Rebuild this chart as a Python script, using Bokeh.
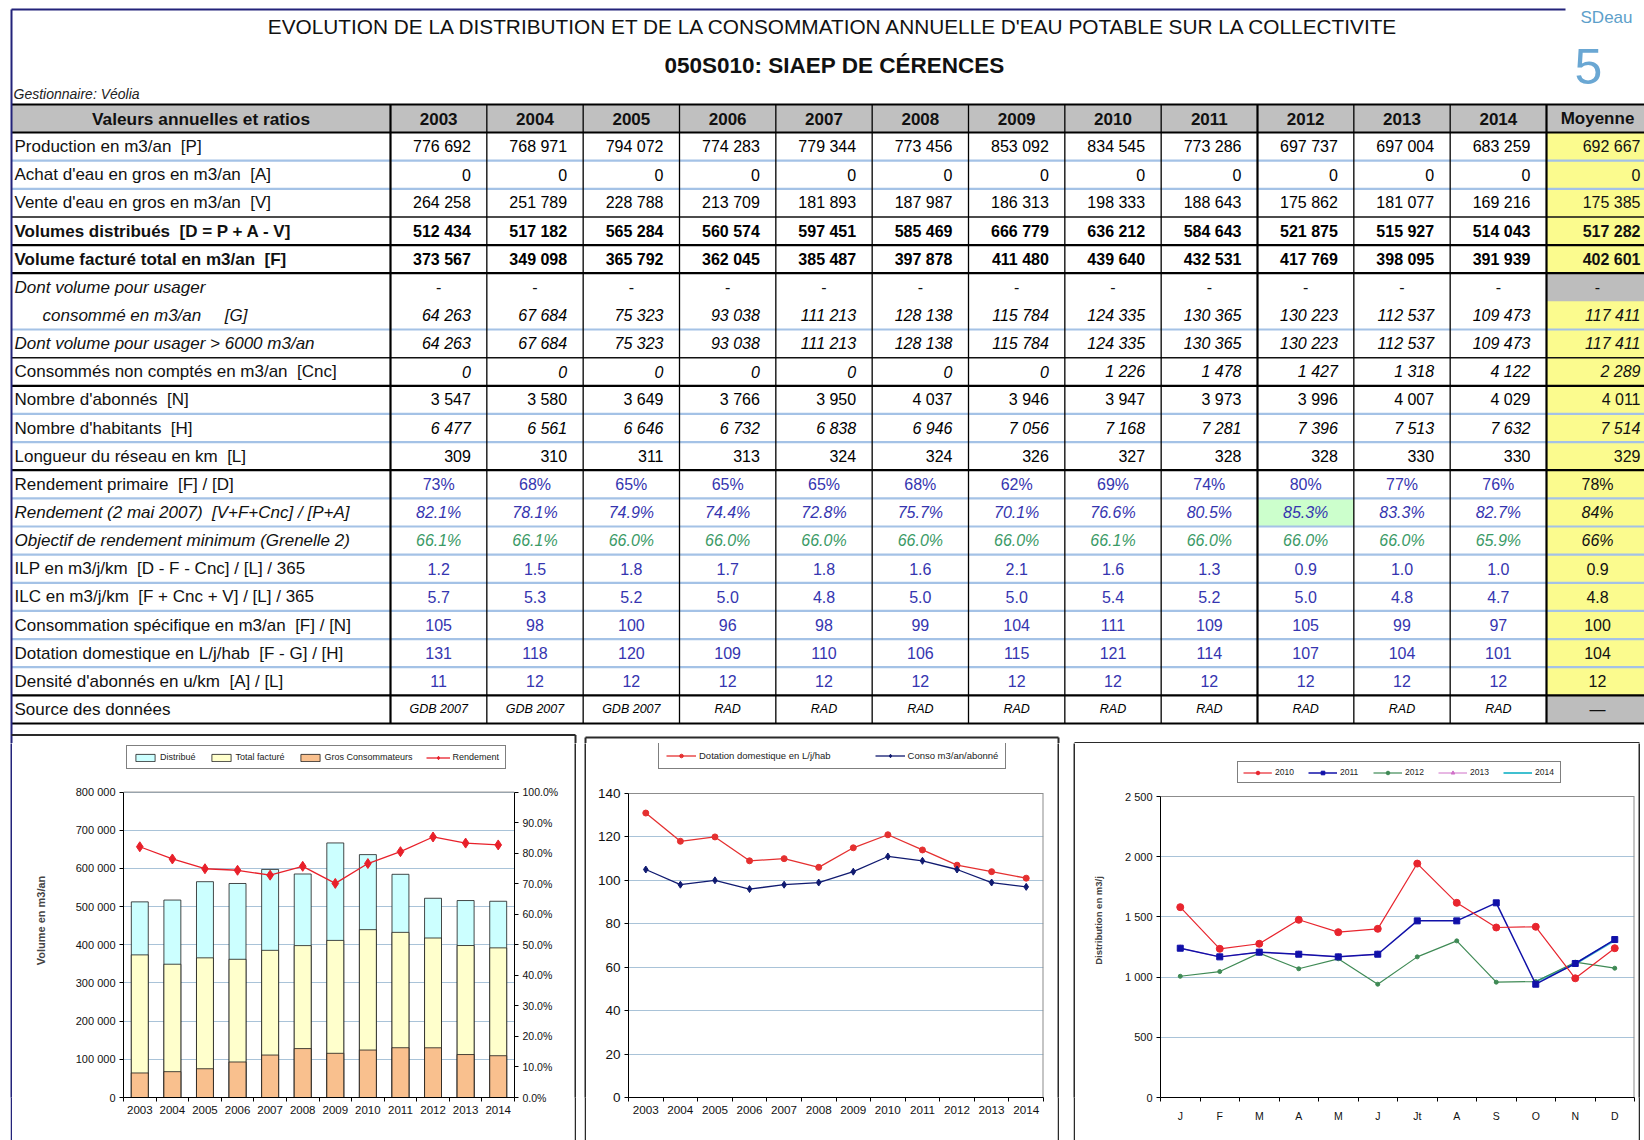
import math
from bokeh.plotting import figure
from bokeh.models import (Range1d, ColumnDataSource, LinearAxis, FixedTicker, Legend,
                          LegendItem, Spacer, Grid)
from bokeh.layouts import column, row
from bokeh.core.properties import value
from bokeh.embed import file_html
from bokeh.resources import INLINE

NAN = float("nan")

# ---------------------------------------------------------------- texts
TITLE = "EVOLUTION DE LA DISTRIBUTION ET DE LA CONSOMMATION ANNUELLE D'EAU POTABLE SUR LA COLLECTIVITE"
SUBTITLE = "050S010: SIAEP DE CÉRENCES"
GESTIONNAIRE = "Gestionnaire: Véolia"
HEADER_LABEL = "Valeurs annuelles et ratios"
HEADER_MOY = "Moyenne"

# ---------------------------------------------------------------- data
years = ["2003", "2004", "2005", "2006", "2007", "2008", "2009", "2010", "2011", "2012", "2013", "2014"]

production = [776692, 768971, 794072, 774283, 779344, 773456, 853092, 834545, 773286, 697737, 697004, 683259]
achat = [0, 0, 0, 0, 0, 0, 0, 0, 0, 0, 0, 0]
vente = [264258, 251789, 228788, 213709, 181893, 187987, 186313, 198333, 188643, 175862, 181077, 169216]
distribue = [512434, 517182, 565284, 560574, 597451, 585469, 666779, 636212, 584643, 521875, 515927, 514043]
facture = [373567, 349098, 365792, 362045, 385487, 397878, 411480, 439640, 432531, 417769, 398095, 391939]
usager = [64263, 67684, 75323, 93038, 111213, 128138, 115784, 124335, 130365, 130223, 112537, 109473]
usager6000 = [64263, 67684, 75323, 93038, 111213, 128138, 115784, 124335, 130365, 130223, 112537, 109473]
cnc = [0, 0, 0, 0, 0, 0, 0, 1226, 1478, 1427, 1318, 4122]
abonnes = [3547, 3580, 3649, 3766, 3950, 4037, 3946, 3947, 3973, 3996, 4007, 4029]
habitants = [6477, 6561, 6646, 6732, 6838, 6946, 7056, 7168, 7281, 7396, 7513, 7632]
longueur = [309, 310, 311, 313, 324, 324, 326, 327, 328, 328, 330, 330]
rend_primaire = [73, 68, 65, 65, 65, 68, 62, 69, 74, 80, 77, 76]
rendement = [82.1, 78.1, 74.9, 74.4, 72.8, 75.7, 70.1, 76.6, 80.5, 85.3, 83.3, 82.7]
objectif = [66.1, 66.1, 66.0, 66.0, 66.0, 66.0, 66.0, 66.1, 66.0, 66.0, 66.0, 65.9]
ilp = [1.2, 1.5, 1.8, 1.7, 1.8, 1.6, 2.1, 1.6, 1.3, 0.9, 1.0, 1.0]
ilc = [5.7, 5.3, 5.2, 5.0, 4.8, 5.0, 5.0, 5.4, 5.2, 5.0, 4.8, 4.7]
conso = [105, 98, 100, 96, 98, 99, 104, 111, 109, 105, 99, 97]
dotation = [131, 118, 120, 109, 110, 106, 115, 121, 114, 107, 104, 101]
densite = [11, 12, 12, 12, 12, 12, 12, 12, 12, 12, 12, 12]
source = ["GDB 2007", "GDB 2007", "GDB 2007", "RAD", "RAD", "RAD", "RAD", "RAD", "RAD", "RAD", "RAD", "RAD"]

moyenne = {
    "production": 692667, "achat": 0, "vente": 175385, "distribue": 517282, "facture": 402601,
    "usager": 117411, "usager6000": 117411, "cnc": 2289, "abonnes": 4011, "habitants": 7514,
    "longueur": 329, "rend_primaire": 78, "rendement": 84, "objectif": 66, "ilp": 0.9,
    "ilc": 4.8, "conso": 100, "dotation": 104, "densite": 12, "source": "—",
}

vol_ticks = [0, 100000, 200000, 300000, 400000, 500000, 600000, 700000, 800000]
vol_tick_labels = ["0", "100 000", "200 000", "300 000", "400 000", "500 000", "600 000", "700 000", "800 000"]
pct_ticks = [0, 10, 20, 30, 40, 50, 60, 70, 80, 90, 100]
pct_tick_labels = ["0.0%", "10.0%", "20.0%", "30.0%", "40.0%", "50.0%", "60.0%", "70.0%", "80.0%", "90.0%", "100.0%"]
ratio_ticks = [0, 20, 40, 60, 80, 100, 120, 140]

months = ["J", "F", "M", "A", "M", "J", "Jt", "A", "S", "O", "N", "D"]
dist_2010 = [1581, 1235, 1277, 1476, 1373, 1401, 1943, 1617, 1412, 1418, 990, 1240]
dist_2011 = [1240, 1168, 1207, 1190, 1168, 1190, 1467, 1467, 1617, 941, 1113, 1312]
dist_2012 = [1007, 1046, 1199, 1069, 1152, 941, 1168, 1301, 958, 963, 1124, 1074]
dist_2013 = [1240, 1168, 1207, 1190, 1168, 1190, NAN, NAN, NAN, NAN, NAN, NAN]
dist_2014 = [NAN, NAN, NAN, NAN, NAN, NAN, NAN, NAN, NAN, 962, 1110, 1305]
month_ticks = [0, 500, 1000, 1500, 2000, 2500]
month_tick_labels = ["0", "500", "1 000", "1 500", "2 000", "2 500"]

# ---------------------------------------------------------------- styles
SANS = "Liberation Sans"
NARROW = "'Liberation Sans Narrow', 'Liberation Sans', Arial, sans-serif"
BLUE_TXT = "#3535b0"
GREEN_TXT = "#3a9a66"
SEP_BLUE = "#a4c2e6"
GRID_BLUE = "#a9c3d8"
FRAME = "#2a2a2a"
NAVY = "#23237a"


def fmt(v, kind):
    if isinstance(v, str):
        return v
    if kind == "int":
        return f"{v:,}".replace(",", " ")
    if kind == "pct0":
        return f"{v:.0f}%"
    if kind == "pct1":
        return f"{v:.1f}%"
    if kind == "dec1":
        return f"{v:.1f}"
    return str(v)


# ---------------------------------------------------------------- table figure
T_H = 743
T = figure(width=1644, height=T_H, x_range=Range1d(0, 1644), y_range=Range1d(T_H, 0),
           x_axis_type=None, y_axis_type=None, output_backend="svg", toolbar_location=None,
           min_border=0, min_border_left=0, min_border_right=0, min_border_top=0, min_border_bottom=0)
T.outline_line_color = None
T.background_fill_color = "white"

X_LEFT, X_LAB, X_MOY, X_RIGHT = 11, 390, 1546, 1646
COLW = (X_MOY - X_LAB) / len(years)
Y_HEAD_T, Y_HEAD_B, Y_BOTTOM = 104, 132, 723
N_UNITS = 21
RH = (Y_BOTTOM - Y_HEAD_B) / N_UNITS
col_left = [X_LAB + i * COLW for i in range(len(years))]
col_right = [l + COLW for l in col_left]
col_center = [l + COLW / 2 for l in col_left]
MOY_CENTER = 1597
MOY_RIGHT = 1640


def ytop(u):
    return Y_HEAD_B + u * RH


def ymid(u):
    return Y_HEAD_B + (u + 0.5) * RH


table_rows = [
    dict(u=0, n=1, label="Production en m3/an  [P]", vals=production, key="production", fmt="int", al="right", ls="normal", vs="normal", c="black", sep="blue"),
    dict(u=1, n=1, label="Achat d'eau en gros en m3/an  [A]", vals=achat, key="achat", fmt="int", al="right", ls="normal", vs="normal", c="black", sep="blue"),
    dict(u=2, n=1, label="Vente d'eau en gros en m3/an  [V]", vals=vente, key="vente", fmt="int", al="right", ls="normal", vs="normal", c="black", sep="black1"),
    dict(u=3, n=1, label="Volumes distribués  [D = P + A - V]", vals=distribue, key="distribue", fmt="int", al="right", ls="bold", vs="bold", c="black", sep="black2"),
    dict(u=4, n=1, label="Volume facturé total en m3/an  [F]", vals=facture, key="facture", fmt="int", al="right", ls="bold", vs="bold", c="black", sep="black2"),
    dict(u=5, n=2, label="Dont volume pour usager", label2="consommé en m3/an     [G]", vals=usager, key="usager", fmt="int", al="right", ls="italic", vs="italic", c="black", sep="blue"),
    dict(u=7, n=1, label="Dont volume pour usager > 6000 m3/an", vals=usager6000, key="usager6000", fmt="int", al="right", ls="italic", vs="italic", c="black", sep="black1"),
    dict(u=8, n=1, label="Consommés non comptés en m3/an  [Cnc]", vals=cnc, key="cnc", fmt="int", al="right", ls="normal", vs="italic", c="black", sep="black2"),
    dict(u=9, n=1, label="Nombre d'abonnés  [N]", vals=abonnes, key="abonnes", fmt="int", al="right", ls="normal", vs="normal", c="black", sep="blue"),
    dict(u=10, n=1, label="Nombre d'habitants  [H]", vals=habitants, key="habitants", fmt="int", al="right", ls="normal", vs="italic", c="black", sep="blue"),
    dict(u=11, n=1, label="Longueur du réseau en km  [L]", vals=longueur, key="longueur", fmt="int", al="right", ls="normal", vs="normal", c="black", sep="black2"),
    dict(u=12, n=1, label="Rendement primaire  [F] / [D]", vals=rend_primaire, key="rend_primaire", fmt="pct0", al="center", ls="normal", vs="normal", c=BLUE_TXT, sep="blue"),
    dict(u=13, n=1, label="Rendement (2 mai 2007)  [V+F+Cnc] / [P+A]", vals=rendement, key="rendement", fmt="pct1", mfmt="pct0", al="center", ls="italic", vs="italic", c=BLUE_TXT, sep="blue"),
    dict(u=14, n=1, label="Objectif de rendement minimum (Grenelle 2)", vals=objectif, key="objectif", fmt="pct1", mfmt="pct0", al="center", ls="italic", vs="italic", c=GREEN_TXT, sep="blue"),
    dict(u=15, n=1, label="ILP en m3/j/km  [D - F - Cnc] / [L] / 365", vals=ilp, key="ilp", fmt="dec1", al="center", ls="normal", vs="normal", c=BLUE_TXT, sep="blue"),
    dict(u=16, n=1, label="ILC en m3/j/km  [F + Cnc + V] / [L] / 365", vals=ilc, key="ilc", fmt="dec1", al="center", ls="normal", vs="normal", c=BLUE_TXT, sep="blue"),
    dict(u=17, n=1, label="Consommation spécifique en m3/an  [F] / [N]", vals=conso, key="conso", fmt="num", al="center", ls="normal", vs="normal", c=BLUE_TXT, sep="blue"),
    dict(u=18, n=1, label="Dotation domestique en L/j/hab  [F - G] / [H]", vals=dotation, key="dotation", fmt="num", al="center", ls="normal", vs="normal", c=BLUE_TXT, sep="blue"),
    dict(u=19, n=1, label="Densité d'abonnés en u/km  [A] / [L]", vals=densite, key="densite", fmt="num", al="center", ls="normal", vs="normal", c=BLUE_TXT, sep="black2"),
    dict(u=20, n=1, label="Source des données", vals=source, key="source", fmt="str", al="center", ls="normal", vs="italic", c="black", sep="black2", size="12.5px"),
]

# backgrounds
T.quad(left=[X_LEFT], right=[X_RIGHT], top=[Y_HEAD_T], bottom=[Y_HEAD_B], fill_color="#c0c0c0", line_color=None)
T.quad(left=[X_MOY], right=[X_RIGHT], top=[Y_HEAD_B], bottom=[Y_BOTTOM], fill_color="#fbfb8e", line_color=None)
gray_units = [5, 20]
T.quad(left=[X_MOY] * 2, right=[X_RIGHT] * 2, top=[ytop(u) for u in gray_units],
       bottom=[ytop(u + 1) for u in gray_units], fill_color="#bdbdbd", line_color=None)
best = rendement.index(max(rendement))
T.quad(left=[col_left[best]], right=[col_right[best]], top=[ytop(13)], bottom=[ytop(14)],
       fill_color="#ccffcc", line_color=None)

# horizontal separators
seps = {"blue": ([], SEP_BLUE, 2.2), "black1": ([], "#111111", 1.5), "black2": ([], "#000000", 2.2)}
for r in table_rows:
    seps[r["sep"]][0].append(ytop(r["u"] + r["n"]))
for key, (ys, col, w) in seps.items():
    T.segment(x0=[X_LEFT] * len(ys), x1=[X_RIGHT] * len(ys), y0=ys, y1=ys, line_color=col, line_width=w)
T.segment(x0=[X_LEFT, X_LEFT], x1=[X_RIGHT, X_RIGHT], y0=[Y_HEAD_T, Y_HEAD_B], y1=[Y_HEAD_T, Y_HEAD_B],
          line_color="black", line_width=2.2)

# vertical lines
thin_x = [l for i, l in enumerate(col_left) if i not in (0, 9)]
thick_x = [X_LAB, col_left[9], X_MOY]
T.segment(x0=thin_x, x1=thin_x, y0=[Y_HEAD_T] * len(thin_x), y1=[Y_BOTTOM] * len(thin_x), line_color="black", line_width=1.3)
T.segment(x0=thick_x, x1=thick_x, y0=[Y_HEAD_T] * 3, y1=[Y_BOTTOM] * 3, line_color="black", line_width=2.2)

# page frame (navy) and the tops of the three chart boxes
T.segment(x0=[X_LEFT, X_LEFT], x1=[1565, X_LEFT], y0=[9, 9], y1=[9, T_H], line_color=NAVY, line_width=2)
box_tops = [(11, 575, 734.5), (585, 1058, 737), (1074, 1639, 742.5)]
T.segment(x0=[b[0] for b in box_tops], x1=[b[1] for b in box_tops], y0=[b[2] for b in box_tops],
          y1=[b[2] for b in box_tops], line_color=FRAME, line_width=2)
side_x = [575, 585, 1058, 1074, 1639]
side_y = [734.5, 737, 737, 742.5, 742.5]
T.segment(x0=side_x, x1=side_x, y0=side_y, y1=[T_H] * len(side_x), line_color=FRAME, line_width=2)

# text cells
cells = {}


def add(x, y, text, align="right", style="normal", color="black", size="16px", font=NARROW):
    k = (align, style, color, size, font)
    d = cells.setdefault(k, dict(x=[], y=[], text=[]))
    d["x"].append(x)
    d["y"].append(y)
    d["text"].append(text)


add(834, 26, TITLE, "center", "normal", "#111111", "20.8px", SANS)
add(834, 65, SUBTITLE, "center", "bold", "#111111", "22.5px", SANS)
add(13, 93, GESTIONNAIRE, "left", "italic", "#222222", "14px", NARROW)
add((X_LEFT + X_LAB) / 2, (Y_HEAD_T + Y_HEAD_B) / 2, HEADER_LABEL, "center", "bold", "#111111", "17.3px")
for i, yv in enumerate(years):
    add(col_center[i], (Y_HEAD_T + Y_HEAD_B) / 2, yv, "center", "bold", "#111111", "17px")
add(MOY_CENTER, (Y_HEAD_T + Y_HEAD_B) / 2, HEADER_MOY, "center", "bold", "#111111", "17px")

for r in table_rows:
    u_val = r["u"] + r["n"] - 1
    size = r.get("size", "16px")
    add(14, ymid(r["u"]), r["label"].replace("  ", "\u00a0\u00a0"), "left", r["ls"], "#111111", "17px", SANS)
    if "label2" in r:
        add(42, ymid(r["u"] + 1), r["label2"].replace("  ", "\u00a0\u00a0"), "left", r["ls"], "#111111", "17px", SANS)
        for i in range(len(years)):
            add(col_center[i], ymid(r["u"]), "-", "center", "normal", "#111111", "16px")
        add(MOY_CENTER, ymid(r["u"]), "-", "center", "normal", "#111111", "16px")
    for i, v in enumerate(r["vals"]):
        x = col_right[i] - 16 if r["al"] == "right" else col_center[i]
        add(x, ymid(u_val), fmt(v, r["fmt"]), r["al"], r["vs"], r["c"], size)
    mv = moyenne[r["key"]]
    mx = MOY_RIGHT if r["al"] == "right" else MOY_CENTER
    add(mx, ymid(u_val), fmt(mv, r.get("mfmt", r["fmt"])), r["al"], r["vs"] if r["key"] != "source" else "normal", "#111111", "16px")

for (align, style, color, size, font), d in cells.items():
    T.text(x="x", y="y", text="text", source=ColumnDataSource(d), text_align=align, text_baseline="middle",
           text_font=value(font), text_font_style=style, text_color=color, text_font_size=size)

# logo
T.text(x=[1606], y=[17], text=["SDeau"], text_align="center", text_baseline="middle",
       text_font=value(NARROW), text_font_size="17px", text_color="#5d9fca")
T.text(x=[1588], y=[66], text=["5"], text_align="center", text_baseline="middle",
       text_font=value(SANS), text_font_size="50px", text_color="#6aa7d3")


# ---------------------------------------------------------------- chart helpers
def bar(w, h, color=FRAME):
    b = figure(width=w, height=h, x_axis_type=None, y_axis_type=None, toolbar_location=None,
               output_backend="svg", min_border=0, min_border_left=0, min_border_right=0,
               min_border_top=0, min_border_bottom=0)
    b.outline_line_color = None
    b.background_fill_color = color
    b.border_fill_color = color
    return b


def base_fig(w, h, xr, yr, bl, br, bt, bb):
    p = figure(width=w, height=h, x_range=xr, y_range=yr, x_axis_type=None, y_axis_type=None,
               output_backend="svg", toolbar_location=None,
               min_border_left=bl, min_border_right=br, min_border_top=bt, min_border_bottom=bb)
    p.outline_line_color = None
    p.background_fill_color = "white"
    return p


def style_axis(ax, size):
    ax.axis_line_color = "black"
    ax.axis_line_width = 1
    ax.major_label_text_font = SANS
    ax.major_label_text_font_size = size
    ax.major_label_text_color = "#111111"


def cat_axis(p, labels, size, standoff=4):
    n = len(labels)
    centers = list(range(1, n + 1))
    bounds = [i + 0.5 for i in range(0, n + 1)]
    ax = LinearAxis(ticker=FixedTicker(ticks=centers, minor_ticks=bounds),
                    major_label_overrides={c: l for c, l in zip(centers, labels)})
    style_axis(ax, size)
    ax.major_tick_line_color = None
    ax.major_tick_out = 4
    ax.major_tick_in = 0
    ax.minor_tick_line_color = "black"
    ax.minor_tick_out = 4
    ax.minor_tick_in = 0
    ax.major_label_standoff = standoff
    p.add_layout(ax, "below")
    return ax


def val_axis(p, ticks, labels, size, loc="left", y_range_name="default"):
    ax = LinearAxis(ticker=FixedTicker(ticks=ticks, minor_ticks=[]), y_range_name=y_range_name,
                    bounds=(ticks[0], ticks[-1]),
                    major_label_overrides={t: l for t, l in zip(ticks, labels)})
    style_axis(ax, size)
    ax.major_tick_line_color = "black"
    ax.major_tick_out = 4
    ax.major_tick_in = 0
    ax.minor_tick_line_color = None
    ax.major_label_standoff = 4
    p.add_layout(ax, loc)
    return ax


def hgrid(p, ticks):
    p.add_layout(Grid(dimension=1, ticker=FixedTicker(ticks=ticks), grid_line_color=GRID_BLUE, grid_line_width=1))


def plot_border(p, n, top, right=True):
    # gray border of the plotting area (top edge, and right edge when no right axis)
    x0 = [0.5]
    x1 = [n + 0.5]
    p.segment(x0=x0, x1=x1, y0=[top], y1=[top], line_color="#8c8c8c", line_width=1)
    if right:
        p.segment(x0=x1, x1=x1, y0=[0], y1=[top], line_color="#8c8c8c", line_width=2)


def legend(p, items, loc, size, gw, spacing, padding):
    lg = Legend(items=items, orientation="horizontal", location=loc, border_line_color="black",
                border_line_width=1.2, label_text_font=SANS, label_text_font_size=size,
                label_text_color="#222222", glyph_width=gw, glyph_height=9, spacing=spacing,
                padding=padding, margin=0, label_standoff=3, background_fill_alpha=1)
    p.add_layout(lg)
    return lg


def ext_top(top_value, frame_h, plot_h):
    # data value at the top of a frame that also holds the legend above the plotting area
    return top_value * frame_h / plot_h


CH = 1140 - T_H  # height of the chart row

# ---------------------------------------------------------------- chart 1
xs = list(range(1, len(years) + 1))
P1W, P1B = 562, 40
p1 = base_fig(P1W, CH, Range1d(0.5, len(years) + 0.5), Range1d(0, ext_top(vol_ticks[-1], CH - P1B, 308)),
              111, 60, 0, P1B)
p1.extra_y_ranges = {"pct": Range1d(0, ext_top(pct_ticks[-1], CH - P1B, 308))}
hgrid(p1, vol_ticks)
ax = val_axis(p1, vol_ticks, vol_tick_labels, "11px", "left")
ax.axis_label = "Volume en m3/an"
ax.axis_label_text_font = SANS
ax.axis_label_text_font_size = "11px"
ax.axis_label_text_font_style = "bold"
ax.axis_label_standoff = 26
val_axis(p1, pct_ticks, pct_tick_labels, "10.5px", "right", "pct")
cat_axis(p1, years, "11.5px")
plot_border(p1, len(years), vol_ticks[-1], right=False)
rD = p1.vbar(x=xs, top=distribue, width=0.52, fill_color="#ccffff", line_color="#1a1a1a", line_width=0.8)
rF = p1.vbar(x=xs, top=facture, width=0.52, fill_color="#ffffcc", line_color="#1a1a1a", line_width=0.8)
rG = p1.vbar(x=xs, top=usager6000, width=0.52, fill_color="#f9c08e", line_color="#1a1a1a", line_width=0.8)
rL = p1.line(xs, rendement, y_range_name="pct", line_color="#e8202a", line_width=1.3)
rS = p1.scatter(xs, rendement, y_range_name="pct", marker="diamond", size=10, fill_color="#e8202a", line_color="#e8202a")
legend(p1, [LegendItem(label="Distribué", renderers=[rD]), LegendItem(label="Total facturé", renderers=[rF]),
            LegendItem(label="Gros Consommateurs", renderers=[rG]), LegendItem(label="Rendement", renderers=[rL, rS])],
       (3, 328), "9px", 24, 13, 6)

# ---------------------------------------------------------------- chart 2
P2W, P2B = 471, 43
p2 = base_fig(P2W, CH, Range1d(0.5, len(years) + 0.5),
              Range1d(0, ext_top(ratio_ticks[-1], CH - P2B, 304)), 42, 14, 0, P2B)
hgrid(p2, ratio_ticks)
val_axis(p2, ratio_ticks, [str(t) for t in ratio_ticks], "13.5px", "left")
cat_axis(p2, years, "11.7px")
plot_border(p2, len(years), ratio_ticks[-1])
l1 = p2.line(xs, dotation, line_color="#e53030", line_width=1.3)
s1 = p2.scatter(xs, dotation, marker="circle", size=6, fill_color="#e53030", line_color="#e53030")
l2 = p2.line(xs, conso, line_color="#101a70", line_width=1.3)
s2 = p2.scatter(xs, conso, marker="diamond", size=7, fill_color="#101a70", line_color="#101a70")
legend(p2, [LegendItem(label="Dotation domestique en L/j/hab", renderers=[l1, s1]),
            LegendItem(label="Conso m3/an/abonné", renderers=[l2, s2])], (30, 328), "9.5px", 30, 44, 7)

# ---------------------------------------------------------------- chart 3
mx = list(range(1, len(months) + 1))
P3W, P3B = 563, 43
p3 = base_fig(P3W, CH, Range1d(0.5, len(months) + 0.5),
              Range1d(0, ext_top(month_ticks[-1], CH - P3B, 301)), 85, 4, 0, P3B)
hgrid(p3, month_ticks)
ax3 = val_axis(p3, month_ticks, month_tick_labels, "11px", "left")
ax3.axis_label = "Distribution en m3/j"
ax3.axis_label_text_font = SANS
ax3.axis_label_text_font_size = "9.5px"
ax3.axis_label_text_font_style = "bold"
ax3.axis_label_standoff = 18
cat_axis(p3, months, "10.5px", standoff=8)
plot_border(p3, len(months), month_ticks[-1])
series3 = [
    ("2013", dist_2013, "#d070c8", "triangle", 6, 1.0),
    ("2014", dist_2014, "#40c0d0", None, 0, 2.0),
    ("2012", dist_2012, "#3f8a55", "circle", 4, 1.2),
    ("2011", dist_2011, "#1010a8", "square", 6, 1.5),
    ("2010", dist_2010, "#e8252e", "circle", 7, 1.2),
]
items3 = {}
for name, data, colr, mk, sz, lw in series3:
    rends = [p3.line(mx, data, line_color=colr, line_width=lw)]
    if mk:
        rends.append(p3.scatter(mx, data, marker=mk, size=sz, fill_color=colr, line_color=colr))
    items3[name] = rends
legend(p3, [LegendItem(label=k, renderers=items3[k]) for k in ["2010", "2011", "2012", "2013", "2014"]],
       (77, 314), "8.5px", 29, 13, 5)

# ---------------------------------------------------------------- layout (chart boxes)
bottom = row(Spacer(width=10, height=10),
             bar(2, CH, NAVY), p1, bar(2, CH),
             Spacer(width=8, height=10),
             bar(2, CH), p2, bar(2, CH),
             Spacer(width=14, height=10),
             bar(2, CH), p3, bar(2, CH), Spacer(width=4, height=10))
page = column(T, bottom)

open("out.html", "w").write(file_html(page, INLINE))
